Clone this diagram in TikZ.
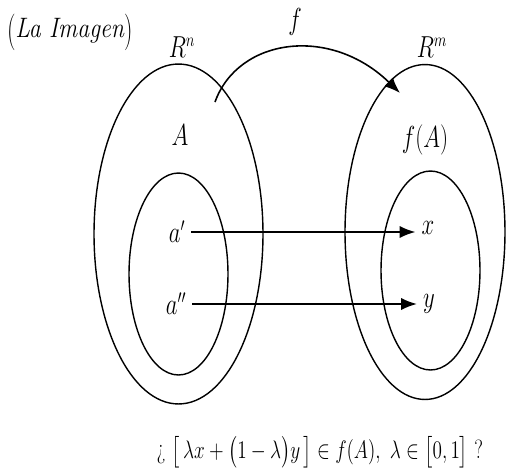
\documentclass[tikz,border=0pt]{standalone}
\usepackage{amsmath, amssymb}
\usepackage{graphicx}
\usepackage{tikz}
\usetikzlibrary{arrows.meta, positioning, shapes.geometric}
% the labels in the figure are set narrow
\newcommand{\squeeze}[1]{\scalebox{0.75}[1]{#1}}
\newcommand{\tallparen}[1]{\raisebox{-0.12em}{\scalebox{1}[1.3]{#1}}}

\begin{document}
\begin{tikzpicture}[x={(0.02cm,0)}, y={(0,-0.02cm)},
		every node/.style={font=\fontsize{16}{18}\selectfont},
		setbox/.style={draw, ellipse, inner sep=0pt, line width=0.8pt},
		maparrow/.style={line width=1.1pt, -{Latex[length=9pt, width=7pt]}}]
	\useasboundingbox (0,0) rectangle (507,470);
	% the two spaces, each with its subset inside
	\node[setbox, minimum width=3.38cm, minimum height=6.8cm] (Rn) at (178.5,234) {};
	\node[setbox, minimum width=1.98cm, minimum height=4.04cm] (Aset) at (178.5,274) {};
	\node[setbox, minimum width=3.2cm, minimum height=6.7cm] (Rm) at (425,232) {};
	\node[setbox, minimum width=1.98cm, minimum height=3.98cm] (fAset) at (430.5,270.5) {};
	% labels
	\node[inner sep=1pt] (title) at (70,32) {\scalebox{0.85}[1]{\tallparen{(}\textit{La Imagen}\tallparen{)}}};
	\node (Rnlab) at (182,47) {\squeeze{$R^{n}$}};
	\node (Rmlab) at (432,47) {\squeeze{$R^{m}$}};
	\node (flab) at (295,22) {\squeeze{$f$}};
	\node (Alab) at (180,135) {\squeeze{$A$}};
	\node (fAlab) at (425,140) {\squeeze{$f(A)$}};
	\node (ap) at (177,232) {\squeeze{$a'$}};
	\node (app) at (176,304) {\squeeze{$a''$}};
	\node (xpt) at (428,228) {\squeeze{$x$}};
	\node (ypt) at (429,304) {\squeeze{$y$}};
	% f sends R^n into R^m
	\coordinate (fstart) at (215,102);
	\coordinate (fend) at (400,93);
	\draw[maparrow, line width=0.9pt] (fstart) .. controls (238,38) and (330,25) .. (fend);
	\draw[maparrow] (ap.east) -- (xpt.west |- ap.east);
	\draw[maparrow] (app.east) -- (ypt.west |- app.east);
	\node[font=\fontsize{15}{18}\selectfont] (question) at (320,452)
		{\scalebox{0.76}[1]{\textquestiondown\ $\bigl[\,\lambda x+\bigl(1-\lambda\bigr)y\,\bigr]\in f(A),\ \lambda\in\bigl[0,1\bigr]$ ?}};
\end{tikzpicture}
\end{document}
